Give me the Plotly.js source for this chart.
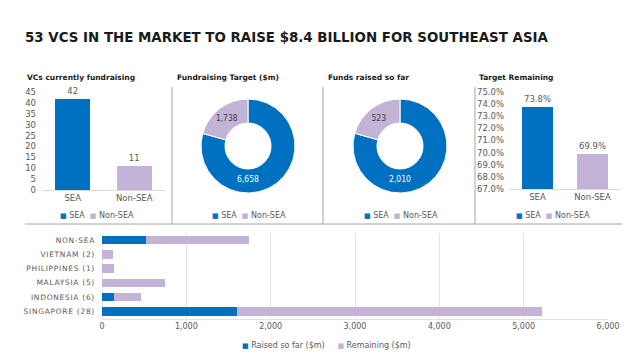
<!DOCTYPE html>
<html>
<head>
<meta charset="utf-8">
<script src="https://cdn.plot.ly/plotly-3.0.1.min.js"></script>
<style>
  html, body { margin: 0; padding: 0; background: #fff; }
  #chart { width: 640px; height: 360px; }
  g.y3tick text { letter-spacing: 0.7px; }
</style>
</head>
<body>
<div id="chart"></div>
<script>
// ---- data ----
const groupLabels = ['SEA', 'Non-SEA'];
const vcCounts = [42, 11];
const targetValues = [6658, 1738];
const raisedValues = [2010, 523];
const remainingPct = [73.8, 69.9];
const countries = ['SINGAPORE (28)', 'INDONESIA (6)', 'MALAYSIA (5)', 'PHILIPPINES (1)', 'VIETNAM (2)', 'NON-SEA'];
const countryRaised = [1600, 145, 0, 0, 0, 523];
const countryRemaining = [3620, 320, 750, 145, 130, 1215];
const seriesNames = ['Raised so far ($m)', 'Remaining ($m)'];

// ---- style ----
const BLUE = '#0070C0';
const PURPLE = '#C3B3D6';
const groupColors = [BLUE, PURPLE];
const FONT = 'DejaVu Sans, Open Sans, sans-serif';
const PIEFONT = 'DejaVu Sans Condensed, Liberation Sans, sans-serif';
const TXT = '#595959';
const W = 640, H = 360;
const px = v => v / W;
const py = v => 1 - v / H;

const traces = [
  {
    type: 'bar', x: groupLabels, y: vcCounts, xaxis: 'x', yaxis: 'y',
    marker: { color: groupColors }, width: 0.57,
    text: vcCounts.map(String), textposition: 'outside', cliponaxis: false,
    textfont: { family: FONT, size: 8.5, color: TXT }, showlegend: false, hoverinfo: 'x+y'
  },
  {
    type: 'pie', labels: groupLabels, values: targetValues,
    domain: { x: [px(190), px(306)], y: [py(193), py(99)] },
    hole: 0.49, sort: false, direction: 'clockwise', rotation: 0,
    marker: { colors: groupColors, line: { color: '#ffffff', width: 1 } },
    texttemplate: '%{value:,}', textposition: 'inside', insidetextorientation: 'horizontal',
    insidetextfont: { family: PIEFONT, size: 8.5, color: ['#ffffff', '#404040'] },
    showlegend: false
  },
  {
    type: 'pie', labels: groupLabels, values: raisedValues,
    domain: { x: [px(342), px(458)], y: [py(193), py(99)] },
    hole: 0.49, sort: false, direction: 'clockwise', rotation: 0,
    marker: { colors: groupColors, line: { color: '#ffffff', width: 1 } },
    texttemplate: '%{value:,}', textposition: 'inside', insidetextorientation: 'horizontal',
    insidetextfont: { family: PIEFONT, size: 8.5, color: ['#ffffff', '#404040'] },
    showlegend: false
  },
  {
    type: 'bar', x: groupLabels, y: remainingPct, xaxis: 'x2', yaxis: 'y2',
    marker: { color: groupColors }, width: 0.56,
    text: remainingPct.map(v => v.toFixed(1) + '%'), textposition: 'outside', cliponaxis: false,
    textfont: { family: FONT, size: 8.5, color: TXT }, showlegend: false
  },
  {
    type: 'bar', orientation: 'h', y: countries, x: countryRaised, xaxis: 'x3', yaxis: 'y3',
    name: seriesNames[0], marker: { color: BLUE }, width: 0.58, showlegend: false
  },
  {
    type: 'bar', orientation: 'h', y: countries, x: countryRemaining, xaxis: 'x3', yaxis: 'y3',
    name: seriesNames[1], marker: { color: PURPLE }, width: 0.58, showlegend: false
  }
];

const tickFont = { family: FONT, size: 8.5, color: TXT };
const lineCol = '#A6A6A6';

function sq(color) {
  return '<span style="color:' + color + ';font-size:7px">■</span>';
}

const annFont = { family: FONT, size: 8, color: TXT };
const titleFont = { family: FONT, size: 7.5, color: '#1a1a1a', weight: 'bold' };

const layout = {
  width: W, height: H,
  margin: { l: 0, r: 0, t: 0, b: 0 },
  paper_bgcolor: '#ffffff', plot_bgcolor: '#ffffff',
  barmode: 'stack',
  showlegend: false,
  font: { family: FONT, color: TXT },
  title: {
    text: '53 VCS IN THE MARKET TO RAISE $8.4 BILLION FOR SOUTHEAST ASIA',
    x: px(25), xanchor: 'left', xref: 'paper',
    y: py(37), yanchor: 'middle', yref: 'paper',
    font: { family: FONT, size: 13.4, color: '#1a1a1a', weight: 'bold' }
  },
  xaxis: {
    domain: [px(42), px(165)], anchor: 'y', type: 'category',
    showline: true, linecolor: '#D9D9D9', ticks: '', tickfont: tickFont, fixedrange: true
  },
  yaxis: {
    domain: [py(190), py(92)], anchor: 'x', range: [0, 45], dtick: 5,
    showgrid: false, zeroline: false, ticks: '', ticklabelstandoff: 5, tickfont: tickFont, fixedrange: true
  },
  xaxis2: {
    domain: [px(510), px(620)], anchor: 'y2', type: 'category',
    showline: true, linecolor: '#D9D9D9', ticks: '', tickfont: tickFont, fixedrange: true
  },
  yaxis2: {
    domain: [py(189), py(92)], anchor: 'x2', range: [67, 75], dtick: 1,
    tickformat: '.1f', ticksuffix: '%',
    showgrid: false, zeroline: false, ticks: '', ticklabelstandoff: 5, tickfont: tickFont, fixedrange: true
  },
  xaxis3: {
    domain: [px(102), px(608)], anchor: 'y3', range: [0, 6000], dtick: 1000, tickformat: ',',
    showgrid: true, gridcolor: '#E3E3E3', zeroline: true, zerolinecolor: '#E3E3E3',
    showline: true, linecolor: '#E3E3E3', ticks: '', tickfont: { family: FONT, size: 8, color: TXT }, fixedrange: true
  },
  yaxis3: {
    domain: [py(318.5), py(233)], anchor: 'x3', type: 'category',
    categoryorder: 'array', categoryarray: countries,
    ticks: '', ticklabelstandoff: 6, showgrid: false,
    tickfont: { family: FONT, size: 7.5, color: TXT }, fixedrange: true
  },
  shapes: [
    { type: 'line', xref: 'paper', yref: 'paper', x0: px(25), x1: px(622), y0: py(224), y1: py(224), line: { color: lineCol, width: 1 } },
    { type: 'line', xref: 'paper', yref: 'paper', x0: px(172), x1: px(172), y0: py(87), y1: py(224), line: { color: lineCol, width: 1 } },
    { type: 'line', xref: 'paper', yref: 'paper', x0: px(323), x1: px(323), y0: py(87), y1: py(224), line: { color: lineCol, width: 1 } },
    { type: 'line', xref: 'paper', yref: 'paper', x0: px(475), x1: px(475), y0: py(87), y1: py(224), line: { color: lineCol, width: 1 } }
  ],
  annotations: [
    { text: 'VCs currently fundraising', x: px(25), y: py(77), xanchor: 'left', yanchor: 'middle', font: titleFont },
    { text: 'Fundraising Target ($m)', x: px(175), y: py(77), xanchor: 'left', yanchor: 'middle', font: titleFont },
    { text: 'Funds raised so far', x: px(326), y: py(77), xanchor: 'left', yanchor: 'middle', font: titleFont },
    { text: 'Target Remaining', x: px(477), y: py(77), xanchor: 'left', yanchor: 'middle', font: titleFont },
    { text: sq(BLUE) + ' ' + groupLabels[0] + '  ' + sq(PURPLE) + ' ' + groupLabels[1], x: px(97), y: py(215), xanchor: 'center', yanchor: 'middle', font: annFont },
    { text: sq(BLUE) + ' ' + groupLabels[0] + '  ' + sq(PURPLE) + ' ' + groupLabels[1], x: px(249), y: py(215), xanchor: 'center', yanchor: 'middle', font: annFont },
    { text: sq(BLUE) + ' ' + groupLabels[0] + '  ' + sq(PURPLE) + ' ' + groupLabels[1], x: px(401), y: py(215), xanchor: 'center', yanchor: 'middle', font: annFont },
    { text: sq(BLUE) + ' ' + groupLabels[0] + '  ' + sq(PURPLE) + ' ' + groupLabels[1], x: px(553), y: py(215), xanchor: 'center', yanchor: 'middle', font: annFont },
    { text: sq(BLUE) + ' ' + seriesNames[0] + '     ' + sq(PURPLE) + ' ' + seriesNames[1], x: px(326), y: py(345), xanchor: 'center', yanchor: 'middle', font: annFont }
  ].map(a => Object.assign({ xref: 'paper', yref: 'paper', showarrow: false }, a))
};

Plotly.newPlot('chart', traces, layout, { staticPlot: true, displayModeBar: false });
</script>
</body>
</html>
